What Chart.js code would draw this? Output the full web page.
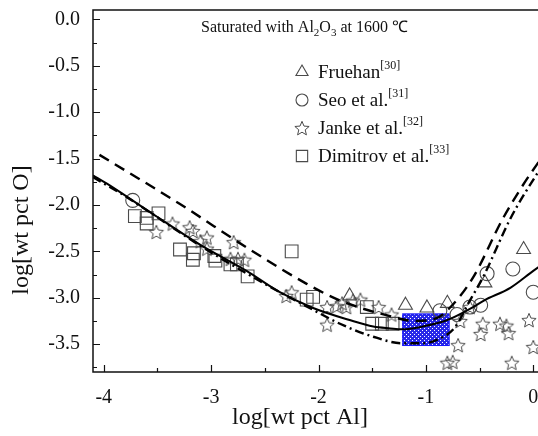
<!DOCTYPE html>
<html>
<head>
<meta charset="utf-8">
<script src="https://cdn.jsdelivr.net/npm/chart.js@4.4.0/dist/chart.umd.min.js"></script>
<style>
  html, body { margin: 0; padding: 0; background: #fff; overflow: hidden; }
  #wrap { position: absolute; left: 0; top: 0; width: 560px; height: 436px; }
</style>
</head>
<body>
<div id="wrap"><canvas id="chart" width="560" height="436"></canvas></div>
<script>
// measured points
const fruehanX = [-1.71, -1.19, -0.99, -0.80, -0.45, -0.09];
const fruehanY = [-2.98, -3.08, -3.11, -3.06, -2.84, -2.48];

const seoX = [-3.73, -0.87, -0.71, -0.59, -0.49, -0.43, -0.19, 0.00];
const seoY = [-1.95, -3.14, -3.18, -3.10, -3.08, -2.74, -2.69, -2.94];

const jankeX = [-3.51, -3.36, -3.20, -3.17, -3.10, -3.04, -3.04, -2.79, -2.82, -2.75, -2.69,
                -2.30, -2.25, -1.92, -1.92, -1.83, -1.78, -1.74, -1.68, -1.61, -1.44, -1.32,
                -0.68, -0.59, -0.47, -0.49, -0.31, -0.25, -0.23, -0.04, -0.70, -0.80, -0.75, -0.20, 0.00];
const jankeY = [-2.29, -2.20, -2.24, -2.28, -2.39, -2.35, -2.47, -2.40, -2.58, -2.58, -2.59,
                -2.98, -2.94, -3.10, -3.29, -3.09, -3.06, -3.10, -3.03, -3.02, -3.10, -3.18,
                -3.25, -3.10, -3.28, -3.39, -3.28, -3.30, -3.38, -3.24, -3.51, -3.70, -3.69, -3.70, -3.53];

const dimitrovX = [-3.71, -3.60, -3.60, -3.49, -3.29, -3.16, -3.17, -2.97, -2.96, -2.82, -2.76,
                   -2.66, -2.25, -2.11, -2.05, -1.55, -1.50, -1.41, -1.31];
const dimitrovY = [-2.12, -2.14, -2.20, -2.09, -2.48, -2.52, -2.59, -2.55, -2.60, -2.64, -2.64,
                   -2.77, -2.50, -3.02, -2.99, -3.10, -3.28, -3.28, -3.28];

// model curves
const solidX = [-4.10, -3.97, -3.50, -3.10, -2.67, -2.36, -2.05, -1.71, -1.49, -1.33, -1.22, -1.03, -0.80, -0.59, -0.46, -0.21, 0.00, 0.10];
const solidY = [-1.68, -1.77, -2.13, -2.43, -2.71, -2.94, -3.11, -3.24, -3.31, -3.33, -3.34, -3.31, -3.24, -3.12, -3.03, -2.89, -2.71, -2.63];

const dashX = [-4.04, -3.29, -2.64, -2.11, -1.80, -1.36, -1.10, -0.90, -0.77, -0.56, -0.28, 0.03, 0.10];
const dashY = [-1.46, -1.99, -2.48, -2.85, -3.03, -3.19, -3.25, -3.22, -3.10, -2.78, -2.14, -1.57, -1.47];

const dashDotX = [-4.10, -3.82, -3.10, -2.50, -2.05, -1.80, -1.49, -1.22, -1.02, -0.87, -0.73, -0.60, -0.46, -0.21, 0.065, 0.10];
const dashDotY = [-1.70, -1.89, -2.44, -2.85, -3.13, -3.28, -3.42, -3.49, -3.49, -3.44, -3.32, -3.05, -2.76, -2.14, -1.61, -1.55];

// shaded box
const boxX = [-1.22, -0.78];
const boxY = [-3.52, -3.17];

const xTicks = [-4, -3, -2, -1, 0];
const xTickLabels = ['-4', '-3', '-2', '-1', '0'];
const yTicks = [0, -0.5, -1, -1.5, -2, -2.5, -3, -3.5];
const yTickLabels = ['0.0', '-0.5', '-1.0', '-1.5', '-2.0', '-2.5', '-3.0', '-3.5'];

const legendNames = ['Fruehan', 'Seo et al.', 'Janke et al.', 'Dimitrov et al.'];
const legendRefs = ['[30]', '[31]', '[32]', '[33]'];

const serif = "'Liberation Serif', 'Times New Roman', serif";
const markerColor = '#4a4a4a';

const toPoints = (xs, ys) => xs.map((x, i) => ({x: x, y: ys[i]}));

const starImage = (r) => {
    const size = Math.ceil(r * 2 + 3);
    const c = document.createElement('canvas');
    c.width = c.height = size;
    const g = c.getContext('2d');
    g.translate(size / 2, size / 2 + 0.8);
    g.beginPath();
    for (let i = 0; i < 10; i++) {
        const rad = i % 2 ? r * 0.45 : r;
        const a = -Math.PI / 2 + i * Math.PI / 5;
        g.lineTo(rad * Math.cos(a), rad * Math.sin(a));
    }
    g.closePath();
    g.strokeStyle = markerColor;
    g.lineWidth = 1;
    g.stroke();
    return c;
};

const boxPattern = (ctx) => {
    const c = document.createElement('canvas');
    c.width = c.height = 4;
    const g = c.getContext('2d');
    g.fillStyle = '#2828e8';
    g.fillRect(0, 0, 4, 4);
    g.fillStyle = '#ffffff';
    g.fillRect(0, 0, 1, 1);
    g.fillRect(2, 2, 1, 1);
    return ctx.createPattern(c, 'repeat');
};

const markerStyles = [
    {pointStyle: 'triangle', radius: 8},
    {pointStyle: 'circle', radius: 7},
    {pointStyle: starImage(7.5), radius: 7},
    {pointStyle: 'rect', radius: 9}
];

const markerSet = (label, xs, ys, st) => ({
    label: label,
    data: toPoints(xs, ys),
    showLine: false,
    pointStyle: st.pointStyle,
    pointRadius: st.radius,
    pointHoverRadius: st.radius,
    pointBorderColor: markerColor,
    pointBackgroundColor: 'rgba(0,0,0,0)',
    pointBorderWidth: 1.1
});

const curveSet = (label, xs, ys, dash, width) => ({
    label: label,
    data: toPoints(xs, ys),
    showLine: true,
    pointRadius: 0,
    borderColor: '#000',
    borderWidth: width,
    borderDash: dash,
    cubicInterpolationMode: 'monotone',
    fill: false
});

// draws a run of text pieces, some raised or lowered
const drawRich = (ctx, x, y, parts) => {
    parts.forEach(p => {
        ctx.font = p[1] + 'px ' + serif;
        ctx.fillText(p[0], x, y + p[2]);
        x += ctx.measureText(p[0]).width;
    });
};

const decor = {
    id: 'decor',
    beforeDatasetsDraw(chart) {
        const {ctx, scales: {x, y}} = chart;
        const x0 = x.getPixelForValue(boxX[0]), x1 = x.getPixelForValue(boxX[1]);
        const y0 = y.getPixelForValue(boxY[1]), y1 = y.getPixelForValue(boxY[0]);
        ctx.save();
        ctx.fillStyle = boxPattern(ctx);
        ctx.fillRect(x0, y0, x1 - x0, y1 - y0);
        ctx.strokeStyle = '#1a1aff';
        ctx.lineWidth = 1;
        ctx.strokeRect(x0 + 0.5, y0 + 0.5, x1 - x0 - 1, y1 - y0 - 1);
        ctx.restore();
    },
    afterDraw(chart) {
        const {ctx, chartArea: a, scales: {x, y}} = chart;
        ctx.save();
        ctx.strokeStyle = '#111';
        ctx.lineWidth = 1.5;
        ctx.beginPath();
        ctx.moveTo(a.right + 5, a.top);
        ctx.lineTo(a.left, a.top);
        ctx.lineTo(a.left, a.bottom);
        ctx.lineTo(a.right + 5, a.bottom);
        ctx.stroke();

        // inward ticks
        ctx.lineWidth = 1.2;
        ctx.beginPath();
        for (let v = -4; v <= 0.01; v += 0.5) {
            const px = Math.round(x.getPixelForValue(v)) + 0.5;
            const len = Number.isInteger(v) ? 7 : 4;
            ctx.moveTo(px, a.bottom);
            ctx.lineTo(px, a.bottom - len);
        }
        for (let v = 0; v >= -3.76; v -= 0.25) {
            const py = Math.round(y.getPixelForValue(v)) + 0.5;
            const len = Math.abs(v * 2 - Math.round(v * 2)) < 0.01 ? 7 : 4;
            ctx.moveTo(a.left, py);
            ctx.lineTo(a.left + len, py);
        }
        ctx.stroke();

        ctx.fillStyle = '#111';
        ctx.textBaseline = 'alphabetic';
        ctx.textAlign = 'left';
        drawRich(ctx, 201, 32, [
            ['Saturated with Al', 16, 0], ['2', 11, 4], ['O', 16, 0], ['3', 11, 4],
            [' at 1600 \u2103', 16, 0]
        ]);

        // legend
        const rows = [72, 100, 128, 156];
        legendNames.forEach((name, i) => {
            const st = markerStyles[i];
            ctx.strokeStyle = markerColor;
            ctx.fillStyle = 'rgba(0,0,0,0)';
            ctx.lineWidth = 1.1;
            Chart.helpers.drawPoint(ctx, {pointStyle: st.pointStyle, radius: st.radius - 1, borderWidth: 1.1}, 302, rows[i]);
            ctx.fillStyle = '#111';
            drawRich(ctx, 318, rows[i] + 6, [[name, 19, 0], [legendRefs[i], 12, -9]]);
        });

        // axis titles
        ctx.font = '24px ' + serif;
        ctx.textAlign = 'center';
        ctx.textBaseline = 'middle';
        ctx.fillText('log[wt pct Al]', 300, 418);
        ctx.translate(22, 230);
        ctx.rotate(-Math.PI / 2);
        ctx.fillText('log[wt pct O]', 0, 0);
        ctx.restore();
    }
};

new Chart(document.getElementById('chart'), {
    type: 'scatter',
    data: {
        datasets: [
            curveSet('solid', solidX, solidY, [], 2),
            curveSet('dash', dashX, dashY, [11, 7], 2.4),
            curveSet('dashdot', dashDotX, dashDotY, [9, 4, 2, 4], 2.4),
            markerSet('Fruehan', fruehanX, fruehanY, markerStyles[0]),
            markerSet('Seo et al.', seoX, seoY, markerStyles[1]),
            markerSet('Janke et al.', jankeX, jankeY, markerStyles[2]),
            markerSet('Dimitrov et al.', dimitrovX, dimitrovY, markerStyles[3])
        ]
    },
    options: {
        responsive: false,
        animation: false,
        events: [],
        layout: {padding: {top: 6, right: 16, left: 0, bottom: 0}},
        plugins: {
            legend: {display: false},
            tooltip: {enabled: false}
        },
        scales: {
            x: {
                type: 'linear',
                min: -4.1,
                max: 0.1,
                grid: {display: false},
                border: {display: false},
                afterBuildTicks: s => { s.ticks = xTicks.map(v => ({value: v})); },
                afterFit: s => { s.height = 64; s.paddingLeft = 0; s.paddingRight = 0; },
                ticks: {
                    padding: 6,
                    color: '#111',
                    font: {family: serif, size: 20},
                    maxRotation: 0,
                    callback: (v, i) => xTickLabels[i]
                }
            },
            y: {
                type: 'linear',
                min: -3.8,
                max: 0.1,
                grid: {display: false},
                border: {display: false},
                afterBuildTicks: s => { s.ticks = yTicks.map(v => ({value: v})); },
                afterFit: s => { s.width = 93; s.paddingTop = 0; s.paddingBottom = 0; },
                ticks: {
                    padding: 5,
                    color: '#111',
                    font: {family: serif, size: 20},
                    callback: (v, i) => yTickLabels[i]
                }
            }
        }
    },
    plugins: [decor]
});
</script>
</body>
</html>
